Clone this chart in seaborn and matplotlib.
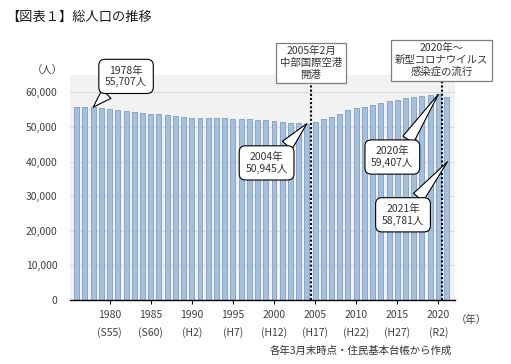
import matplotlib
matplotlib.use('Agg')  # no display
import matplotlib.pyplot as plt
import matplotlib.ticker as mticker
import seaborn as sns
import pandas as pd

# 総人口 (各年3月末時点)
years = list(range(1976, 2022))
population = [55700, 55650, 55707, 55420, 55130, 54900, 54600, 54300, 54050, 53850,
              53650, 53400, 53100, 52800, 52650, 52600, 52600, 52550, 52500, 52350,
              52250, 52200, 52100, 52000, 51750, 51550, 51250, 51050, 50945, 51500,
              52200, 52800, 53800, 55000, 55500, 55800, 56400, 56900, 57500, 57900,
              58400, 58700, 58950, 59200, 59407, 58781]

tick_years = [1980, 1985, 1990, 1995, 2000, 2005, 2010, 2015, 2020]
era_labels = ['S55', 'S60', 'H2', 'H7', 'H12', 'H17', 'H22', 'H27', 'R2']
y_ticks = [0, 10000, 20000, 30000, 40000, 50000, 60000]

title = '【図表１】総人口の推移'
callout_texts = ['1978年\n55,707人', '2004年\n50,945人', '2020年\n59,407人', '2021年\n58,781人']
event_texts = ['2005年2月\n中部国際空港\n開港', '2020年～\n新型コロナウイルス\n感染症の流行']
event_years = [2004.55, 2020.4]
source_text = '各年3月末時点・住民基本台帳から作成'

df = pd.DataFrame({'year': years, 'population': population})

sns.set_style('white')
plt.rcParams['font.family'] = ['Noto Sans CJK JP', 'DejaVu Sans']

fig = plt.figure(figsize=(5.11, 3.64), dpi=100)
ax = fig.add_axes([0.137, 0.176, 0.753, 0.618])
ax.set_facecolor('#f2f2f2')

sns.barplot(data=df, x='year', y='population', native_scale=True, width=0.6,
            color='#a3c0df', edgecolor='#7f9dc2', linewidth=0.6, saturation=1, ax=ax)

ax.set_xlim(1975.18, 2022.0)
ax.set_ylim(0, 65000)
ax.set_xlabel('')
ax.set_ylabel('')

# grid and spines
ax.set_axisbelow(True)
ax.yaxis.grid(True, color='#d9d9d9', lw=0.8)
for side in ['top', 'right', 'left']:
    ax.spines[side].set_visible(False)
ax.spines['bottom'].set_color('black')
ax.spines['bottom'].set_linewidth(1.0)

ax.set_yticks(y_ticks)
ax.yaxis.set_major_formatter(mticker.FuncFormatter(lambda v, p: f'{int(v):,}'))
ax.tick_params(axis='y', length=0, pad=9, labelsize=7.5, labelcolor='#404040')

ax.set_xticks(tick_years)
ax.set_xticklabels([f'{y}\n({e})' for y, e in zip(tick_years, era_labels)], linespacing=1.8)
ax.tick_params(axis='x', bottom=True, length=3, width=0.8, color='black', pad=4,
               labelsize=7.5, labelcolor='#404040')

# dotted event lines
for ex in event_years:
    ax.plot([ex, ex], [0, 63000], color='black', ls=(0, (1, 1)), lw=1.5, clip_on=False, zorder=4)

# event boxes
box_kw = dict(boxstyle='square,pad=0.35', fc='white', ec='#7f7f7f', lw=0.9)
ax.text(2004.5, 68500, event_texts[0], ha='center', va='center', fontsize=7.5,
        color='#333333', bbox=box_kw, clip_on=False, zorder=5, linespacing=1.2)
ax.text(2020.4, 69300, event_texts[1], ha='center', va='center', fontsize=7.5,
        color='#333333', bbox=box_kw, clip_on=False, zorder=5, linespacing=1.2)

# callouts
call_box = dict(boxstyle='round,pad=0.6,rounding_size=0.6', fc='white', ec='black', lw=0.8)
arrow = dict(arrowstyle='wedge,tail_width=1.2,shrink_factor=0.5', fc='white', ec='black',
             lw=0.8, shrinkA=0, shrinkB=0)
ax.annotate(callout_texts[0], xy=(1978, population[2]), xytext=(1982.0, 64600),
            ha='center', va='center', fontsize=7.5, color='#333333', bbox=call_box,
            arrowprops=dict(arrow, relpos=(0.3, 0.2)), annotation_clip=False, zorder=6)
ax.annotate(callout_texts[1], xy=(2004, population[28]), xytext=(1999.1, 39600),
            ha='center', va='center', fontsize=7.5, color='#333333', bbox=call_box,
            arrowprops=dict(arrow, relpos=(0.75, 0.8)), annotation_clip=False, zorder=6)
ax.annotate(callout_texts[2], xy=(2020, population[44]), xytext=(2014.4, 41300),
            ha='center', va='center', fontsize=7.5, color='#333333', bbox=call_box,
            arrowprops=dict(arrow, relpos=(0.7, 0.8)), annotation_clip=False, zorder=6)
ax.annotate(callout_texts[3], xy=(2021.1, 39900), xytext=(2015.7, 24600),
            ha='center', va='center', fontsize=7.5, color='#333333', bbox=call_box,
            arrowprops=dict(arrow, relpos=(0.65, 0.8)), annotation_clip=False, zorder=6)

# texts around the chart
fig.text(0.012, 1 - 17 / 364, title, ha='left', va='center', fontsize=9.5,
         color='#1a1a1a')
fig.text(47 / 511, 1 - 71 / 364, '（人）', ha='center', va='center', fontsize=7.5, color='#404040')
fig.text(471 / 511, 1 - 320 / 364, '（年）', ha='center', va='center', fontsize=7.5, color='#404040')
fig.text(452 / 511, 1 - 351 / 364, source_text, ha='right', va='center', fontsize=7.5,
         color='#333333')

plt.savefig('out.png', dpi=100)
